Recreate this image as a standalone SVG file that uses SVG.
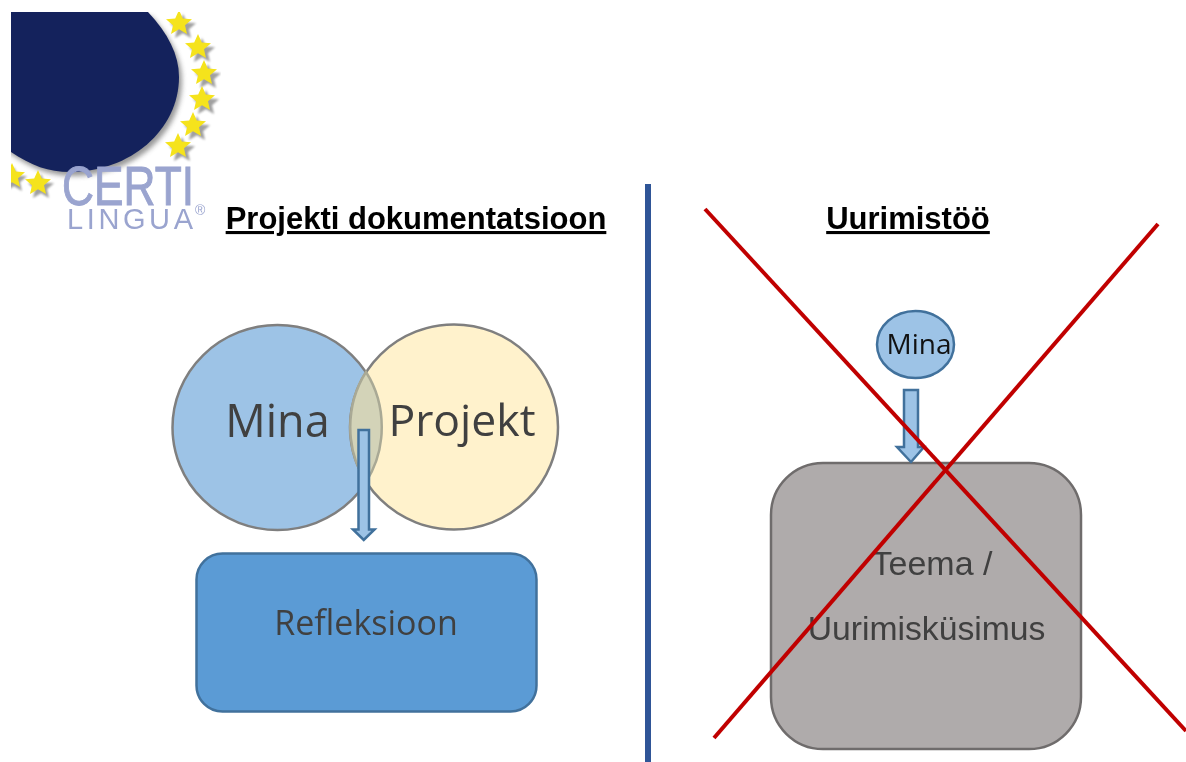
<svg xmlns="http://www.w3.org/2000/svg" width="1186" height="762" viewBox="0 0 1186 762">
<defs>
<style>
.cal{font-family:"Open Sans","Noto Sans","DejaVu Sans",sans-serif;fill:#404040}
.ar{font-family:"Liberation Sans",Arial,sans-serif}
.h{font-size:31px;font-weight:bold;fill:#000;text-decoration:underline}
.cross{stroke:#c00000;stroke-width:4;fill:none}
.arrow{fill:#9dc3e6;stroke:#41719c;stroke-width:2.500}
.star{fill:#f5e31c}
</style>
<clipPath id="logoClip"><rect x="11" y="12" width="210" height="225"/></clipPath>
<filter id="soft" x="-20%" y="-20%" width="140%" height="140%"><feGaussianBlur stdDeviation="2.500"/></filter>
<filter id="soft2" x="-30%" y="-30%" width="160%" height="160%"><feGaussianBlur stdDeviation="1"/></filter>
<polygon id="s" points="0,-13 3.800,-4.500 13,-3.800 6,2.200 8,11 0,6.300 -8,11 -6,2.200 -13,-3.800 -3.800,-4.500"/>
<path id="disc" d="M0 12H148C168 33 179 55 179 77C179 130 130 172 70 172C45 172 25 163 0 144Z"/>
</defs>
<rect width="1186" height="762" fill="#fff"/>
<g id="logo" clip-path="url(#logoClip)">
<use href="#disc" x="3" y="4" fill="#555" opacity=".6" filter="url(#soft)"/>
<use href="#disc" fill="#14225c"/>
<g fill="#777" opacity=".7" filter="url(#soft2)">
<use href="#s" x="183" y="27"/><use href="#s" x="202" y="51"/><use href="#s" x="208" y="77"/><use href="#s" x="206" y="103"/><use href="#s" x="197" y="129"/><use href="#s" x="182" y="150"/><use href="#s" x="41" y="187"/><use href="#s" x="14" y="180"/>
</g>
<g class="star">
<use href="#s" x="179" y="23"/><use href="#s" x="198" y="47"/><use href="#s" x="204" y="73"/><use href="#s" x="202" y="99"/><use href="#s" x="193" y="125"/><use href="#s" x="178" y="146"/><use href="#s" x="38" y="183"/><use href="#s" x="12" y="176"/>
</g>
<text font-family="'Liberation Sans',sans-serif" fill="#9aa4cf"><tspan x="62" y="205" font-size="55" stroke="#9aa4cf" stroke-width="1" textLength="132" lengthAdjust="spacingAndGlyphs">CERTI</tspan><tspan x="67" y="229" font-size="29" textLength="126" lengthAdjust="spacing">LINGUA</tspan><tspan x="195" y="215" font-size="14">®</tspan></text>
</g>
<g id="divider"><rect x="645" y="184" width="6" height="578" fill="#2f5597"/></g>
<text class="ar h" x="416" y="229" text-anchor="middle" id="title-left">Projekti dokumentatsioon</text>
<text class="ar h" x="908" y="229" text-anchor="middle" id="title-right">Uurimistöö</text>
<g id="node-mina-large">
<ellipse cx="277.500" cy="427.500" rx="105" ry="102.500" fill="#9dc3e6" stroke="#7f7f7f" stroke-width="2.500"/>
</g>
<g id="node-projekt">
<ellipse cx="454" cy="427" rx="104" ry="102.500" fill="#fff2cc" stroke="#7f7f7f" stroke-width="2.500"/>
<path d="M366 372C387 405 387 449 366 482C345 449 345 405 366 372Z" fill="#d3d3b8" stroke="#a9a995" stroke-width="2.500"/>
<text class="cal" x="462" y="436" font-size="44.500" text-anchor="middle">Projekt</text>
</g>
<text class="cal" x="277.500" y="437" font-size="45" text-anchor="middle" id="label-mina-large">Mina</text>
<g id="node-refleksioon">
<rect x="196.500" y="553.500" width="340" height="158" rx="26" fill="#5b9bd5" stroke="#41719c" stroke-width="2.500"/>
<text class="cal" x="366" y="635" font-size="34" text-anchor="middle">Refleksioon</text>
</g>
<g id="node-mina-small">
<ellipse cx="915.500" cy="344.500" rx="38.500" ry="33.500" fill="#9dc3e6" stroke="#41719c" stroke-width="2.500"/>
<text class="cal" x="919" y="354" font-size="28" text-anchor="middle" style="fill:#111">Mina</text>
</g>
<g id="node-teema">
<rect x="771" y="463" width="310" height="286" rx="52" fill="#afabab" stroke="#6f6c6c" stroke-width="2.500"/>
<text class="ar" x="932" y="575" font-size="34" text-anchor="middle" fill="#404040">Teema /</text>
<text class="ar" x="926.500" y="640" font-size="33.700" text-anchor="middle" fill="#404040">Uurimisküsimus</text>
</g>
<g id="connectors">
<path class="arrow" d="M358.500 430H369V529.500H374.500L363.750 540L353 529.500H358.500Z"/>
<path class="arrow" d="M904 390H918V447H924L911 462L897 447H904Z"/>
<path class="cross" d="M705 209L1186 731"/>
<path class="cross" d="M1158 224L714 738"/>
</g>
</svg>
